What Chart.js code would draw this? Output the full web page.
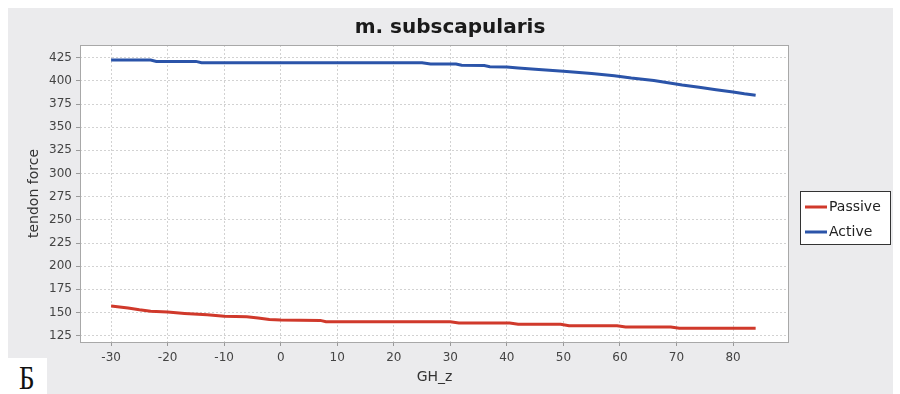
<!DOCTYPE html>
<html>
<head>
<meta charset="utf-8">
<script src="https://cdn.jsdelivr.net/npm/chart.js@4"></script>
<style>
  html, body { margin: 0; padding: 0; background: #ffffff; }
  #wrap { position: relative; width: 900px; height: 394px; overflow: hidden; }
  #c { display: block; }
  #mark { position: absolute; left: 0; top: 358px; width: 47px; height: 36px; background: #ffffff;
          font-family: "Liberation Serif", "DejaVu Serif", serif; font-size: 33px; color: #111;
          line-height: 36px; }
  #mark span { position: absolute; left: 19px; top: 2px; display: inline-block; transform: scaleX(0.82); transform-origin: left center; }
</style>
</head>
<body>
<div id="wrap">
  <canvas id="c" width="900" height="394"></canvas>
  <div id="mark"><span>Б</span></div>
</div>
<script>
const chartTitle = "m. subscapularis";
const xTitle = "GH_z";
const yTitle = "tendon force";
const seriesNames = ["Passive", "Active"];

const passiveX = [-30, -27, -25, -23, -20, -17, -13, -10, -6, -4, -2, 0, 7, 8, 30, 31.5, 40.5, 42, 49.5, 51, 59.5, 61, 69, 70.5, 84];
const passiveY = [157, 155, 153, 151.5, 150.5, 149, 147.5, 146, 145.5, 144, 142.5, 142, 141.5, 140, 140, 138.8, 138.8, 137.3, 137.3, 135.8, 135.8, 134.5, 134.5, 133, 133];

const activeX = [-30, -23, -22, -15, -14, 25, 26.5, 31, 32, 36, 37, 40, 42, 45, 50, 55, 59, 62, 66, 68.5, 71, 74, 77, 80, 82, 84];
const activeY = [422.5, 422.5, 421, 421, 419.6, 419.6, 418.2, 418.2, 416.8, 416.5, 415.3, 415, 414, 412.5, 410.5, 408, 405.5, 403, 400.5, 398, 395.5, 393, 390.5, 388, 386, 384.5];

const xTicks = [-30, -20, -10, 0, 10, 20, 30, 40, 50, 60, 70, 80];
const yTicks = [125, 150, 175, 200, 225, 250, 275, 300, 325, 350, 375, 400, 425];

const colors = ["#d0392b", "#2b54a9"];

function pts(xs, ys) { return xs.map((x, i) => ({ x: x, y: ys[i] })); }

const FONT = '"DejaVu Sans", "Liberation Sans", sans-serif';

const decor = {
  id: 'decor',
  beforeDraw(chart) {
    const ctx = chart.ctx;
    const a = chart.chartArea;
    ctx.save();
    ctx.fillStyle = '#ffffff';
    ctx.fillRect(0, 0, 900, 394);
    ctx.fillStyle = '#ebebed';
    ctx.fillRect(8, 8, 885, 386);
    ctx.fillStyle = '#ffffff';
    ctx.fillRect(a.left, a.top, a.right - a.left, a.bottom - a.top);
    ctx.fillStyle = '#1a1a1a';
    ctx.font = 'bold 20px ' + FONT;
    ctx.textAlign = 'center';
    ctx.textBaseline = 'alphabetic';
    ctx.fillText(chartTitle, 450, 33);
    ctx.restore();
  },
  beforeDatasetsDraw(chart) {
    const ctx = chart.ctx;
    const a = chart.chartArea;
    ctx.save();
    ctx.strokeStyle = '#a8a8a8';
    ctx.lineWidth = 1;
    ctx.strokeRect(a.left + 0.5, a.top + 0.5, a.right - a.left - 1, a.bottom - a.top);
    ctx.restore();
  },
  afterDraw(chart) {
    const ctx = chart.ctx;
    ctx.save();
    ctx.fillStyle = '#ffffff';
    ctx.fillRect(801, 192, 89, 52);
    ctx.strokeStyle = '#333333';
    ctx.lineWidth = 1;
    ctx.strokeRect(800.5, 191.5, 90, 53);
    ctx.font = '14px ' + FONT;
    ctx.textAlign = 'left';
    ctx.textBaseline = 'middle';
    const rows = [207, 232];
    chart.data.datasets.forEach((ds, i) => {
      ctx.strokeStyle = ds.borderColor;
      ctx.lineWidth = 3;
      ctx.beginPath();
      ctx.moveTo(805, rows[i]);
      ctx.lineTo(827, rows[i]);
      ctx.stroke();
      ctx.fillStyle = '#222222';
      ctx.fillText(ds.label, 829, rows[i]);
    });
    ctx.restore();
  }
};

const gridOpts = { color: '#d2d2d2', tickLength: 4, tickColor: '#999999', tickBorderDash: [], drawTicks: true };
const borderOpts = { display: false, dash: [2, 2] };

new Chart(document.getElementById('c'), {
  type: 'line',
  data: {
    datasets: [
      { label: seriesNames[0], data: pts(passiveX, passiveY), borderColor: colors[0], backgroundColor: colors[0], borderWidth: 3, pointRadius: 0, tension: 0, fill: false },
      { label: seriesNames[1], data: pts(activeX, activeY), borderColor: colors[1], backgroundColor: colors[1], borderWidth: 3, pointRadius: 0, tension: 0, fill: false }
    ]
  },
  options: {
    responsive: false,
    animation: false,
    devicePixelRatio: 1,
    layout: { padding: { left: 8, right: 111, top: 45, bottom: 0 } },
    plugins: { legend: { display: false }, title: { display: false }, tooltip: { enabled: false } },
    scales: {
      x: {
        type: 'linear',
        min: -35.5,
        max: 89.9,
        afterFit(scale) { scale.height = 52; },
        afterBuildTicks(scale) { scale.ticks = xTicks.map(v => ({ value: v })); },
        grid: gridOpts,
        border: borderOpts,
        ticks: { font: { family: FONT, size: 12 }, color: '#444444', padding: 5, maxRotation: 0, autoSkip: false },
        title: { display: true, text: xTitle, font: { family: FONT, size: 14 }, color: '#333333', padding: { top: 0, bottom: 8 } }
      },
      y: {
        type: 'linear',
        min: 118.2,
        max: 438.7,
        afterFit(scale) { scale.width = 72; },
        afterBuildTicks(scale) { scale.ticks = yTicks.map(v => ({ value: v })); },
        grid: gridOpts,
        border: borderOpts,
        ticks: { font: { family: FONT, size: 12 }, color: '#444444', padding: 4, autoSkip: false },
        title: { display: true, text: yTitle, font: { family: FONT, size: 14 }, color: '#333333', padding: { top: 18, bottom: 0 } }
      }
    }
  },
  plugins: [decor]
});
</script>
</body>
</html>
